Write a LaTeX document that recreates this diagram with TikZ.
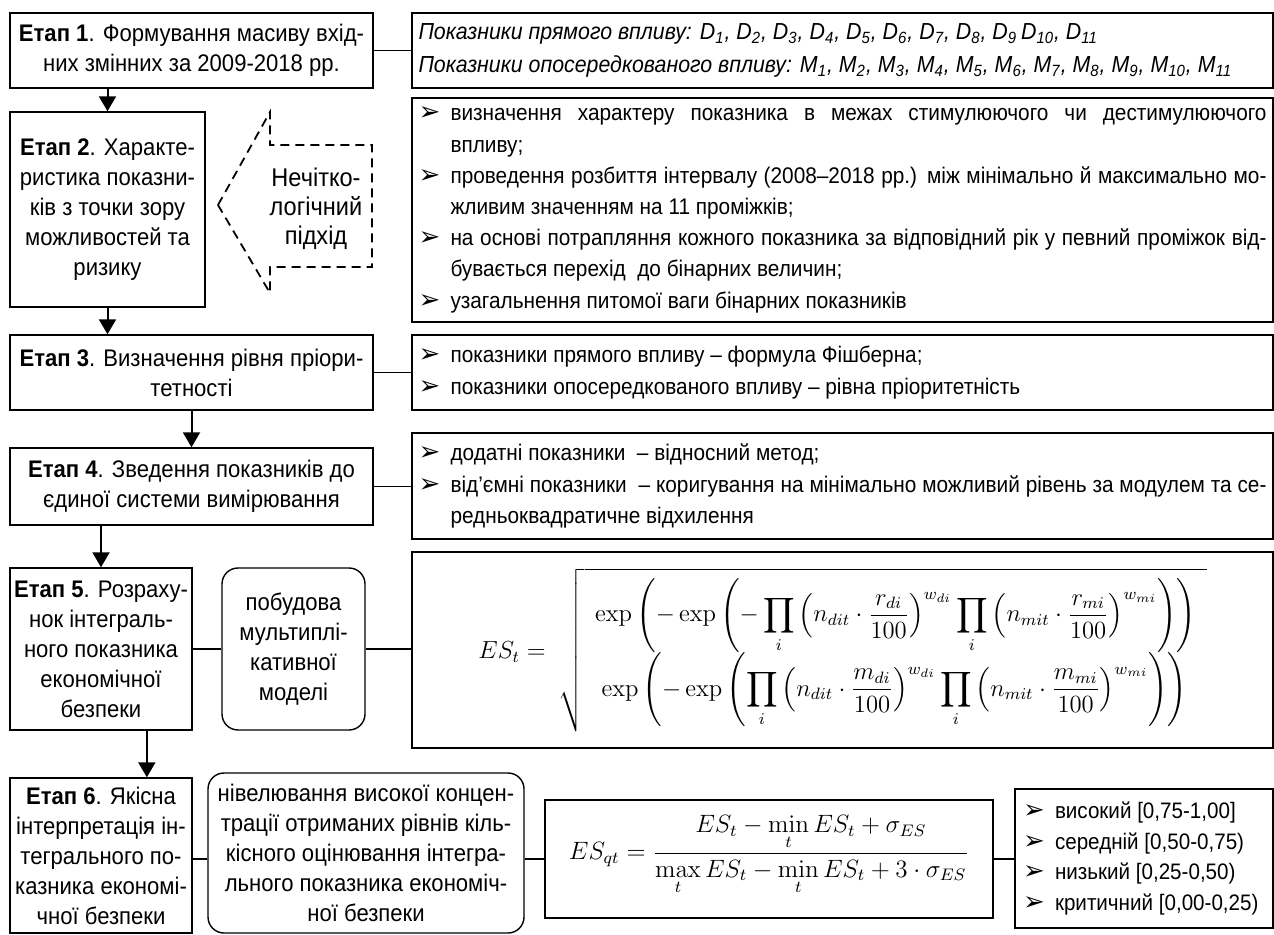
\documentclass[tikz,border=0pt]{standalone}
\usepackage[no-math]{fontspec}
\usepackage{amsmath}
\setmainfont{Liberation Sans}[FakeStretch=0.92]
\newfontfamily\dejavu{DejaVu Sans}
\usetikzlibrary{arrows.meta,calc}
\newcommand\bul{{\dejavu\fontsize{13}{13}\selectfont ➢}}
\newcommand\bl{\makebox[16pt][l]{\bul}}
\newcommand\ind{\hspace*{16pt}}
\newcommand\jl[1]{\makebox[408pt][s]{#1}}
\newcommand\lf{\fontsize{11.3}{15.6}\selectfont}
% box from pixel corners: style, x1, y1, x2, y2, name, text
\newcommand\bx[7]{\node[#1, minimum width={(#4-#2)*0.5pt}, minimum height={(#5-#3)*0.5pt}] (#6) at ({(#2+#4)/2},{(#3+#5)/2}) {#7};}
\begin{document}
\begin{tikzpicture}[x=0.5pt,y=-0.5pt,
  every node/.style={font=\fontsize{12}{15}\selectfont},
  box/.style={draw, line width=0.7pt, inner sep=0pt},
  ctr/.style={box, align=center},
  rbox/.style={ctr, rounded corners=8pt},
  ln/.style={line width=0.7pt},
  arr/.style={line width=1pt, -{Triangle[width=8.5pt,length=7.5pt]}},
  dsh/.style={line width=0.9pt, dash pattern=on 4.5pt off 3pt}]
\useasboundingbox (0,0) rectangle (1274,935);

% left column
\bx{ctr}{10}{13}{373}{88}{s1}{\textbf{Етап 1}. Формування масиву вхід-\\них змінних за 2009-2018 рр.}
\bx{ctr}{10}{112}{205}{307}{s2}{\textbf{Етап 2}. Характе-\\ристика показни-\\ків з точки зору\\можливостей та\\ризику}
\bx{ctr}{10}{335}{373}{410}{s3}{\textbf{Етап 3}. Визначення рівня пріори-\\тетності}
\bx{ctr}{10}{448}{373}{525}{s4}{\textbf{Етап 4}. Зведення показників до\\єдиної системи вимірювання}
\bx{ctr}{10}{568}{192}{730}{s5}{\textbf{Етап 5}. Розраху-\\нок інтеграль-\\ного показника\\економічної\\безпеки}
\bx{ctr}{10}{778}{192}{933}{s6}{\textbf{Етап 6}. Якісна\\інтерпретація ін-\\тегрального по-\\казника економі-\\чної безпеки}

% dashed arrow
\draw[dsh] (218,205) -- (270,112) -- (270,145) -- (372,145) -- (372,267) -- (270,267) -- (270,293) -- cycle;
\node[align=center, font=\fontsize{12.8}{14.5}\selectfont] (fz) at (316,209) {Нечітко-\\логічний\\підхід};

% rounded boxes
\bx{rbox}{222}{568}{365}{730}{r1}{побудова\\мультиплі-\\кативної\\моделі}
\bx{rbox}{208}{773}{524}{933}{r2}{нівелювання високої концен-\\трації отриманих рівнів кіль-\\кісного оцінювання інтегра-\\льного показника економіч-\\ної безпеки}

% right column
\bx{box}{412}{13}{1273}{88}{dm}{\parbox{424pt}{\fontsize{11.6}{16.5}\selectfont\itshape\raggedright Показники прямого впливу: D\textsubscript{1}, D\textsubscript{2}, D\textsubscript{3}, D\textsubscript{4}, D\textsubscript{5}, D\textsubscript{6}, D\textsubscript{7}, D\textsubscript{8}, D\textsubscript{9}\,D\textsubscript{10}, D\textsubscript{11}\\Показники опосередкованого впливу: M\textsubscript{1}, M\textsubscript{2}, M\textsubscript{3}, M\textsubscript{4}, M\textsubscript{5}, M\textsubscript{6}, M\textsubscript{7}, M\textsubscript{8}, M\textsubscript{9}, M\textsubscript{10}, M\textsubscript{11}}}

\bx{box}{412}{98}{1273}{322}{b2}{\parbox{424pt}{\lf\raggedright
\bl\jl{визначення характеру показника в межах стимулюючого чи дестимулюючого}\\
\ind впливу;\\
\bl\jl{проведення розбиття інтервалу (2008–2018 рр.) між мінімально й максимально мо-}\\
\ind жливим значенням на 11 проміжків;\\
\bl\jl{на основі потрапляння кожного показника за відповідний рік у певний проміжок від-}\\
\ind бувається перехід\ \ до бінарних величин;\\
\bl узагальнення питомої ваги бінарних показників}}

\bx{box}{412}{335}{1273}{410}{b3}{\parbox{424pt}{\lf\raggedright
\bl показники прямого впливу – формула Фішберна;\\
\bl показники опосередкованого впливу – рівна пріоритетність}}

\bx{box}{412}{433}{1273}{539}{b4}{\parbox{424pt}{\lf\raggedright
\bl додатні показники\ \ – відносний метод;\\
\bl\jl{від’ємні показники\ \ – коригування на мінімально можливий рівень за модулем та се-}\\
\ind редньоквадратичне відхилення}}

\bx{box}{412}{552}{1273}{748}{f1}{}
\node[inner sep=0pt] (f1t) at (f1.center) {\resizebox{364pt}{!}{$\displaystyle ES_t=\ \sqrt{\begin{array}{l}
\displaystyle\exp\left(-\exp\left(-\prod_i\left(n_{dit}\cdot\frac{r_{di}}{100}\right)^{w_{di}}\prod_i\left(n_{mit}\cdot\frac{r_{mi}}{100}\right)^{w_{mi}}\right)\right)\\[2pt]
\displaystyle\ \exp\left(-\exp\left(\prod_i\left(n_{dit}\cdot\frac{m_{di}}{100}\right)^{w_{di}}\prod_i\left(n_{mit}\cdot\frac{m_{mi}}{100}\right)^{w_{mi}}\right)\right)
\end{array}}$}};

\bx{box}{545}{800}{993}{918}{f2}{}
\node[inner sep=0pt] (f2t) at ($(f2.center)+(0,-4)$) {\resizebox{200pt}{!}{$\displaystyle ES_{qt}=\frac{ES_t-\min\limits_t ES_t+\sigma_{ES}}{\max\limits_t ES_t-\min\limits_t ES_t+3\cdot\sigma_{ES}}$}};

\bx{box}{1015}{789}{1273}{928}{lv}{\parbox{121pt}{\fontsize{11.2}{15.2}\selectfont\raggedright
\bl високий [0,75-1,00]\\
\bl середній [0,50-0,75)\\
\bl низький [0,25-0,50)\\
\bl критичний [0,00-0,25)}}

% connectors
\draw[ln] (s1.east) -- (dm.west |- s1.east);
\draw[ln] (s3.east) -- (b3.west |- s3.east);
\draw[ln] (s4.east) -- (b4.west |- s4.east);
\draw[ln] (s5.east) -- (r1.west |- s5.east);
\draw[ln] (r1.east) -- (f1.west |- r1.east);
\draw[ln] (f2.west -| s6.east) -- (f2.west -| r2.west);
\draw[ln] (r2.east |- f2.west) -- (f2.west);
\draw[ln] (f2.east) -- (lv.west |- f2.east);

% arrows
\draw[arr] (s2.north |- s1.south) -- (s2.north);
\draw[arr] (s2.south) -- (s2.south |- s3.north);
\draw[arr] (s3.south) -- (s4.north);
\draw[arr] (s5.north |- s4.south) -- (s5.north);
\draw[arr] ($(s5.south)!0.5!(s5.south east)$) -- ($(s6.north)!0.5!(s6.north east)$);
\end{tikzpicture}
\end{document}
